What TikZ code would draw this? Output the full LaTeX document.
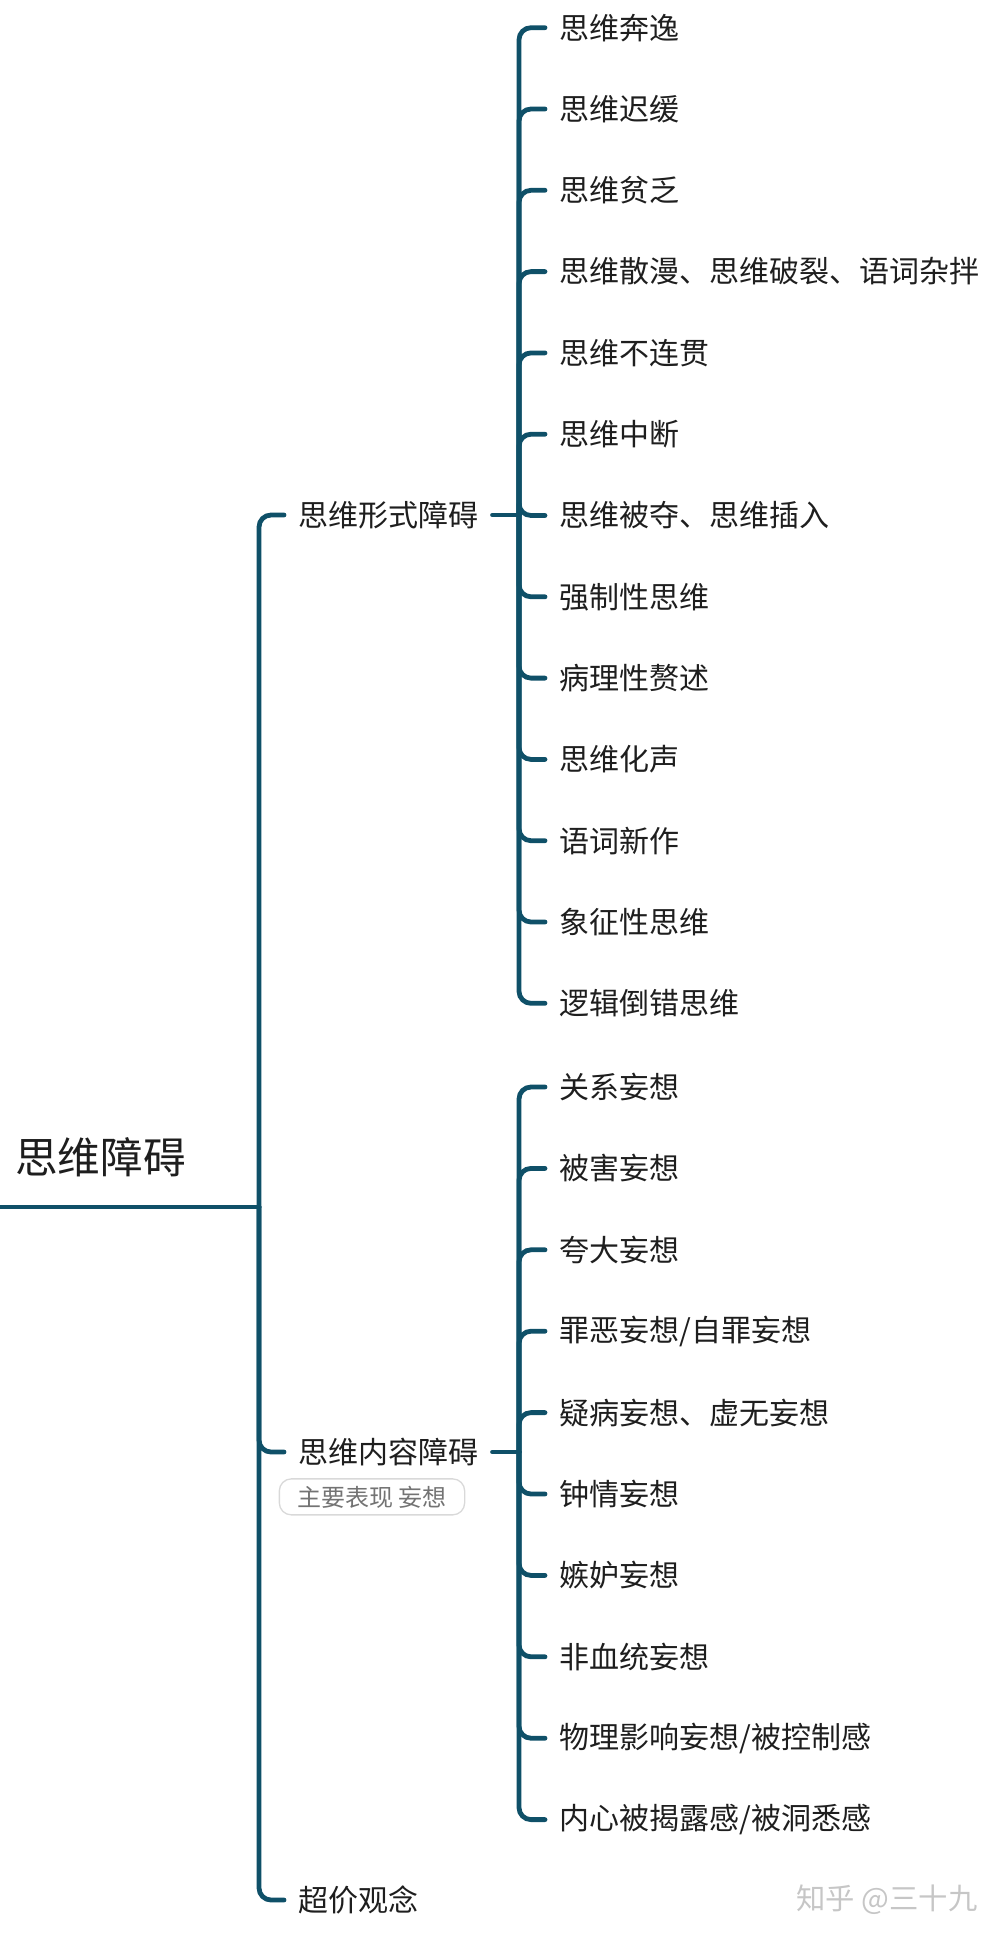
\documentclass[tikz,border=0pt]{standalone}
\usepackage{fontspec}
\setmainfont{Noto Sans CJK SC}
\usetikzlibrary{positioning, calc}

\definecolor{branch}{HTML}{0F5068}
\definecolor{inktext}{HTML}{1E1E1E}

\begin{document}
\begin{tikzpicture}[
    x=0.75pt, y=-0.75pt,
    topic/.style={
        anchor=west,
        inner ysep=0pt,
        inner xsep=10.5pt,
        text=inktext,
        font=\fontsize{22.5}{26}\selectfont
    },
    link/.style={
        draw=branch,
        line width=3.6pt,
        line cap=round,
        rounded corners=9pt
    },
    memo/.style={
        draw=gray!30,
        line width=1pt,
        rounded corners=9pt,
        text=gray!90!black,
        minimum width=139pt,
        minimum height=27pt,
        font=\fontsize{18}{22}\selectfont
    }
]
\useasboundingbox (0,0) rectangle (1004,1944);

% root
\node[anchor=west, inner sep=0pt, text=inktext, font=\fontsize{32}{38}\selectfont] (root) at (15,1157) {思维障碍};
\coordinate (rootend) at (0,1207);
\coordinate (hub) at (259,1207);
\draw[link] (rootend) -- (hub);

% first level
\node[topic] (form) at (284,515) {思维形式障碍};
\node[topic] (content) at (284,1452) {思维内容障碍};
\node[topic] (over) at (284,1900) {超价观念};
\node[memo, below=9pt of content.south west, anchor=north west, xshift=-4pt] (note) {主要表现 妄想};

\foreach \n in {form, content, over}
    \draw[link] (hub) |- (\n.west);

% form group
\coordinate (formhub) at (519,515);
\draw[link] (form.east) -- (formhub);
\foreach \t [count=\i] in {思维奔逸, 思维迟缓, 思维贫乏, 思维散漫、思维破裂、语词杂拌,
    思维不连贯, 思维中断, 思维被夺、思维插入, 强制性思维, 病理性赘述,
    思维化声, 语词新作, 象征性思维, 逻辑倒错思维} {
    \node[topic] (f\i) at (545,{27.7+81.3*(\i-1)}) {\t};
    \draw[link] (formhub) |- (f\i.west);
}

% content group
\coordinate (contenthub) at (519,1452);
\draw[link] (content.east) -- (contenthub);
\foreach \t [count=\i] in {关系妄想, 被害妄想, 夸大妄想, 罪恶妄想/自罪妄想,
    疑病妄想、虚无妄想, 钟情妄想, 嫉妒妄想, 非血统妄想,
    物理影响妄想/被控制感, 内心被揭露感/被洞悉感} {
    \node[topic] (c\i) at (545,{1087+81.4*(\i-1)}) {\t};
    \draw[link] (contenthub) |- (c\i.west);
}

% watermark
\node[text=gray!45, font=\fontsize{22}{26}\selectfont] (mark) at (887,1900) {知乎 @三十九};
\end{tikzpicture}
\end{document}
